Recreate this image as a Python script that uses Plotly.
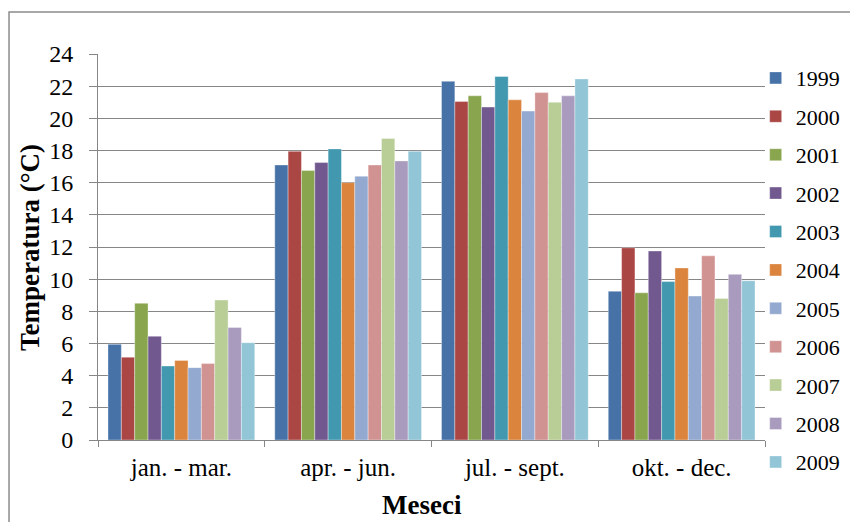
import plotly.graph_objects as go

# Quarterly mean temperatures (°C) by year
quarters = ["jan. - mar.", "apr. - jun.", "jul. - sept.", "okt. - dec."]
years = ["1999", "2000", "2001", "2002", "2003", "2004",
         "2005", "2006", "2007", "2008", "2009"]

t1999 = [5.95, 17.1, 22.3, 9.25]
t2000 = [5.15, 17.95, 21.05, 11.95]
t2001 = [8.5, 16.75, 21.4, 9.15]
t2002 = [6.45, 17.25, 20.7, 11.75]
t2003 = [4.6, 18.1, 22.6, 9.85]
t2004 = [4.95, 16.0, 21.15, 10.7]
t2005 = [4.5, 16.4, 20.45, 8.95]
t2006 = [4.75, 17.1, 21.6, 11.45]
t2007 = [8.7, 18.75, 21.0, 8.8]
t2008 = [7.0, 17.35, 21.4, 10.3]
t2009 = [6.05, 17.95, 22.45, 9.9]

series = [t1999, t2000, t2001, t2002, t2003, t2004,
          t2005, t2006, t2007, t2008, t2009]

colors = ["#4672a8", "#aa4644", "#89a54e", "#71588f", "#4198af", "#db843d",
          "#93a9cf", "#d19392", "#b9cd96", "#a99bbd", "#92c5d6"]

y_ticks = list(range(0, 25, 2))

FONT = "Liberation Serif"

fig = go.Figure()
for i, (yr, vals) in enumerate(zip(years, series)):
    fig.add_trace(go.Bar(
        x=quarters, y=vals, name=yr, legendgroup=yr,
        marker=dict(color=colors[i],
                    line=dict(color="rgba(255,255,255,0.45)", width=0.8)),
    ))

fig.update_layout(
    width=850, height=522,
    margin=dict(l=98, r=85, t=54, b=82, autoexpand=False),
    paper_bgcolor="white", plot_bgcolor="white",
    barmode="group", bargap=0.12, bargroupgap=0,
    font=dict(family=FONT, color="black", size=22),
    showlegend=True,
    legend=dict(
        x=0.986, xanchor="left", y=0.992, yanchor="top",
        traceorder="grouped", tracegroupgap=6.8, maxheight=520,
        itemwidth=30, font=dict(size=22, family=FONT),
        bgcolor="rgba(0,0,0,0)",
    ),
    xaxis=dict(
        type="category", showgrid=False,
        showline=True, linecolor="#868686", linewidth=1,
        ticks="outside", tickson="boundaries", ticklen=6, tickcolor="#868686",
        tickfont=dict(size=25, family=FONT), ticklabelstandoff=5,
    ),
    yaxis=dict(
        range=[0, 24], tickvals=y_ticks,
        showgrid=True, gridcolor="#868686", gridwidth=1,
        showline=True, linecolor="#868686", linewidth=1,
        ticks="outside", ticklen=8, tickcolor="#868686",
        tickfont=dict(size=24, family=FONT), ticklabelstandoff=11,
        zeroline=False,
    ),
    annotations=[
        dict(text="<b>Temperatura (°C)</b>", textangle=-90,
             xref="paper", yref="paper", x=-0.102, y=0.5,
             xanchor="center", yanchor="middle", showarrow=False,
             font=dict(size=27, family=FONT)),
        dict(text="<b>Meseci</b>",
             xref="paper", yref="paper", x=0.486, y=-0.168,
             xanchor="center", yanchor="middle", showarrow=False,
             font=dict(size=27, family=FONT)),
    ],
    shapes=[
        dict(type="rect", xref="paper", yref="paper",
             x0=-0.1334, x1=1.16, y0=-0.25, y1=1.1088,
             line=dict(color="#8c8c8c", width=1.5), fillcolor="rgba(0,0,0,0)",
             layer="below"),
    ],
)

fig.write_html("out.html")
